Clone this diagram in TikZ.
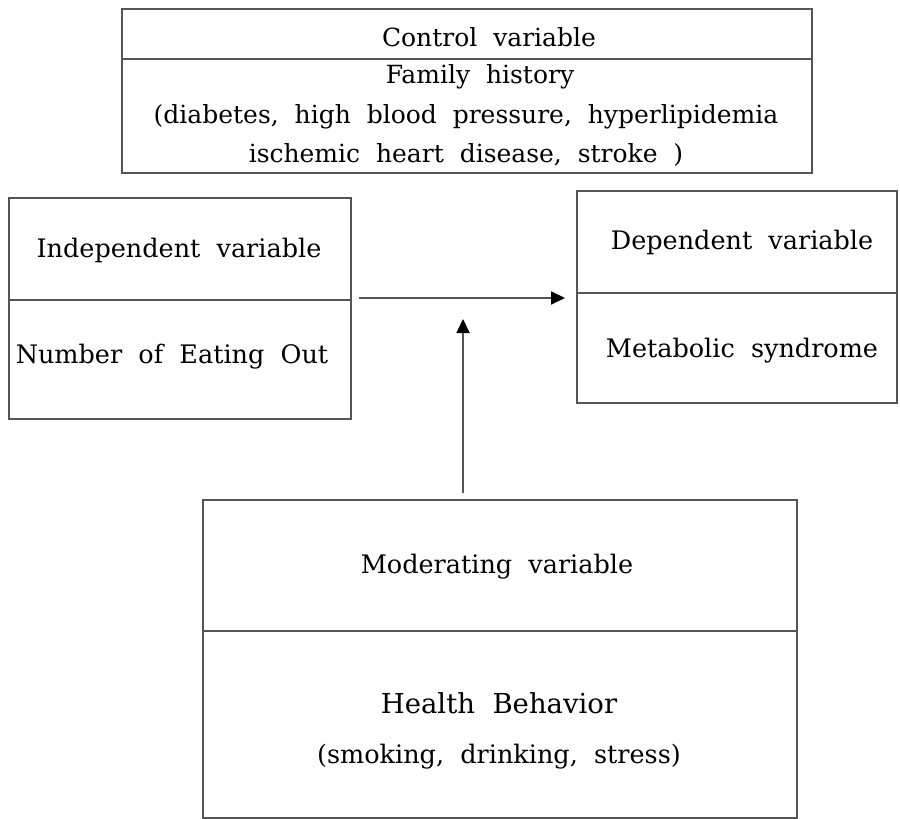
\documentclass[tikz,border=0pt]{standalone}
\usepackage{fontspec}
\setmainfont[WordSpace=2]{DejaVu Serif}
\usetikzlibrary{arrows.meta}
\definecolor{boxgray}{HTML}{555555}
\begin{document}
\begin{tikzpicture}[x=1pt,y=-1pt,
  boxframe/.style={draw=boxgray, line width=1.8pt, inner sep=0pt, anchor=north west},
  divider/.style={draw=boxgray, line width=1.8pt},
  lbl/.style={font=\fontsize{25.5}{30}\selectfont, text=black, inner sep=0pt},
  tlbl/.style={font=\fontsize{25}{30}\selectfont, text=black, inner sep=0pt},
  conn/.style={draw=boxgray, line width=1.8pt, -{Triangle[length=14pt,width=13pt,color=black]}}]
\useasboundingbox (0,0) rectangle (900,819);
% control variable box
\node[boxframe, minimum width=690pt, minimum height=164pt] (ctl) at (121,8) {};
\draw[divider] (121,59) -- (811,59);
\node[tlbl] (ctlt) at (489,37) {Control variable};
\node[tlbl] (fam) at (480,77) {Family history};
\node[tlbl] (fam2) at (466,117) {(diabetes, high blood pressure, hyperlipidemia};
\node[tlbl] (fam3) at (466,155) {ischemic heart disease, stroke )};
% independent variable box
\node[boxframe, minimum width=342pt, minimum height=221pt] (iv) at (8,197) {};
\draw[divider] (8,300) -- (350,300);
\node[lbl] (ivt) at (179,250) {Independent variable};
\node[lbl] (ivn) at (172,357) {Number of Eating Out};
% dependent variable box
\node[boxframe, minimum width=320pt, minimum height=212pt] (dv) at (576,190) {};
\draw[divider] (576,293) -- (896,293);
\node[lbl] (dvt) at (742,242) {Dependent variable};
\node[lbl] (dvn) at (742,351) {Metabolic syndrome};
% moderating variable box
\node[boxframe, minimum width=594pt, minimum height=318pt] (mv) at (202,499) {};
\draw[divider] (202,631) -- (796,631);
\node[lbl] (mvt) at (497,567) {Moderating variable};
\node[lbl, font=\fontsize{27.5}{32}\selectfont] (mvn) at (499,703) {Health Behavior};
\node[lbl] (mvn2) at (499,757) {(smoking, drinking, stress)};
% connectors
\coordinate (hstart) at (359,298);
\coordinate (hend) at (565,298);
\coordinate (vstart) at (463,493);
\coordinate (vend) at (463,319);
\draw[conn] (hstart) -- (hend);
\draw[conn] (vstart) -- (vend);
\end{tikzpicture}
\end{document}
